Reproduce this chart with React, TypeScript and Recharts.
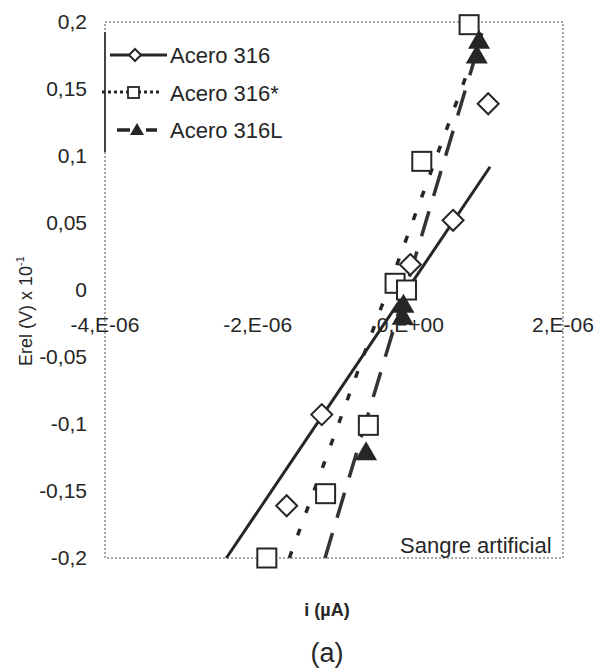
import React from "react";
import { ScatterChart, Scatter, XAxis, YAxis, ReferenceArea } from "recharts";

const FONT = "'Liberation Sans', Arial, sans-serif";
const INK = "#262626";

// Acero 316 (rombos)
const I_316 = [-1.62e-6, -1.16e-6, 0.0, 0.56e-6, 1.02e-6];
const E_316 = [-0.161, -0.093, 0.019, 0.052, 0.139];
// Acero 316* (cuadrados)
const I_316S = [-1.88e-6, -1.11e-6, -0.55e-6, -0.2e-6, -0.05e-6, 0.15e-6, 0.77e-6];
const E_316S = [-0.2, -0.152, -0.101, 0.005, 0.0, 0.096, 0.198];
// Acero 316L (triangulos)
const I_316L = [-0.58e-6, -0.1e-6, -0.09e-6, 0.87e-6, 0.9e-6];
const E_316L = [-0.121, -0.02, -0.011, 0.175, 0.186];

// lineas de tendencia (extremos)
const TREND_316_I = [-2.41e-6, 1.045e-6];
const TREND_316_E = [-0.2, 0.092];
const TREND_316S_I = [-1.585e-6, 0.99e-6];
const TREND_316S_E = [-0.2, 0.2];
const TREND_316L_I = [-1.118e-6, 0.93e-6];
const TREND_316L_E = [-0.2, 0.189];

const X_TICKS = [-4e-6, -2e-6, 0, 2e-6];
const X_TICK_LABELS = ["-4,E-06", "-2,E-06", "0,E+00", "2,E-06"];
const Y_TICKS = [-0.2, -0.15, -0.1, -0.05, 0, 0.05, 0.1, 0.15, 0.2];

const SERIES_NAMES = ["Acero 316", "Acero 316*", "Acero 316L"];

const toPoints = (xs: number[], ys: number[]) => xs.map((x, i) => ({ x, y: ys[i] }));

function Diamond({ cx, cy }: any) {
  const r = 10.5;
  return (
    <polygon
      points={`${cx},${cy - r} ${cx + r},${cy} ${cx},${cy + r} ${cx - r},${cy}`}
      fill="#fff"
      stroke={INK}
      strokeWidth={2}
    />
  );
}

function Square({ cx, cy }: any) {
  const h = 9.5;
  return <rect x={cx - h} y={cy - h} width={2 * h} height={2 * h} fill="#fff" stroke={INK} strokeWidth={2} />;
}

function Triangle({ cx, cy }: any) {
  return <polygon points={`${cx},${cy - 11} ${cx + 11},${cy + 8} ${cx - 11},${cy + 8}`} fill={INK} />;
}

const NoDot = () => <g />;

// the x labels sit just under the E = 0 line, not at the bottom
function XTick({ x, payload }: any) {
  const idx = X_TICKS.indexOf(payload.value);
  return (
    <text x={x} y={332} textAnchor="middle" fill={INK} fontSize={21} fontFamily={FONT}>
      {X_TICK_LABELS[idx]}
    </text>
  );
}

const yFormat = (v: number) => String(v).replace(".", ",");

export default function App() {
  return (
    <div style={{ position: "absolute", left: 0, top: 0, width: 596, height: 672, background: "#fff" }}>
      <ScatterChart width={596} height={672} margin={{ top: 22, right: 33, bottom: 84, left: 45 }}>
        <XAxis
          type="number"
          dataKey="x"
          domain={[-4e-6, 2e-6]}
          ticks={X_TICKS}
          height={30}
          axisLine={false}
          tickLine={false}
          tick={<XTick />}
        />
        <YAxis
          type="number"
          dataKey="y"
          domain={[-0.2, 0.2]}
          ticks={Y_TICKS}
          width={60}
          axisLine={false}
          tickLine={false}
          tickSize={8}
          tickMargin={10}
          tickFormatter={yFormat}
          tick={{ fill: INK, fontSize: 21, fontFamily: FONT }}
        />
        <ReferenceArea
          x1={-4e-6}
          x2={2e-6}
          y1={-0.2}
          y2={0.2}
          fill="none"
          fillOpacity={0}
          stroke="#8a8a8a"
          strokeWidth={1.5}
          strokeDasharray="2 2"
        />
        <Scatter
          data={toPoints(TREND_316_I, TREND_316_E)}
          line={{ stroke: INK, strokeWidth: 3 }}
          shape={NoDot}
          isAnimationActive={false}
        />
        <Scatter
          data={toPoints(TREND_316S_I, TREND_316S_E)}
          line={{ stroke: INK, strokeWidth: 3.5, strokeDasharray: "7 17" }}
          shape={NoDot}
          isAnimationActive={false}
        />
        <Scatter
          data={toPoints(TREND_316L_I, TREND_316L_E)}
          line={{ stroke: "#333", strokeWidth: 3.5, strokeDasharray: "26 16" }}
          shape={NoDot}
          isAnimationActive={false}
        />
        <Scatter data={toPoints(I_316, E_316)} shape={Diamond} isAnimationActive={false} />
        <Scatter data={toPoints(I_316S, E_316S)} shape={Square} isAnimationActive={false} />
        <Scatter data={toPoints(I_316L, E_316L)} shape={Triangle} isAnimationActive={false} />
      </ScatterChart>

      <svg
        width={596}
        height={672}
        style={{ position: "absolute", left: 0, top: 0, pointerEvents: "none" }}
        fontFamily={FONT}
      >
        {/* leyenda */}
        <line x1={105} y1={32} x2={105} y2={152} stroke="#444" strokeWidth={2} />
        <line x1={110} y1={55} x2={167} y2={55} stroke={INK} strokeWidth={3} />
        <polygon points="135,49 141,55 135,61 129,55" fill="#fff" stroke={INK} strokeWidth={2} />
        <line x1={102} y1={92} x2={162} y2={92} stroke={INK} strokeWidth={3} strokeDasharray="3 3" />
        <rect x={128} y={87} width={11} height={11} fill="#fff" stroke={INK} strokeWidth={1.8} />
        <line x1={117} y1={130} x2={157} y2={130} stroke={INK} strokeWidth={3.5} strokeDasharray="13 16" />
        <polygon points="137,123 144,135 130,135" fill={INK} />
        {SERIES_NAMES.map((name, i) => (
          <text key={name} x={170} y={63 + i * 37.5} fontSize={22} fill={INK}>
            {name}
          </text>
        ))}

        <text x={400} y={553} fontSize={22} fill={INK}>
          Sangre artificial
        </text>
        <text transform="translate(32, 311) rotate(-90)" textAnchor="middle" fontSize={18} fill={INK}>
          Erel (V) x 10
          <tspan fontSize={11} dy={-8}>
            -1
          </tspan>
        </text>
        <text x={327} y={616} textAnchor="middle" fontSize={18} fontWeight="bold" fill={INK}>
          i (µA)
        </text>
        <text x={327} y={662} textAnchor="middle" fontSize={27} fill={INK}>
          (a)
        </text>
      </svg>
    </div>
  );
}
